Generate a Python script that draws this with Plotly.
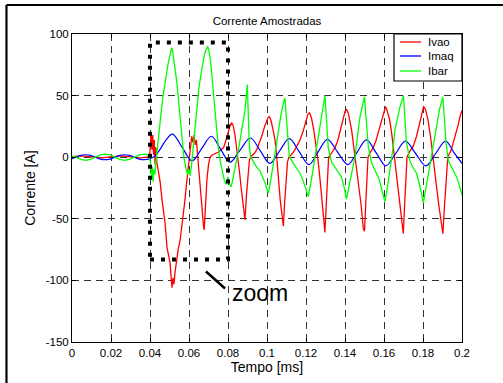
import plotly.graph_objects as go

# ---------------- data ----------------
x_tick_vals = [0, 0.02, 0.04, 0.06, 0.08, 0.1, 0.12, 0.14, 0.16, 0.18, 0.2]
x_tick_text = ["0", "0.02", "0.04", "0.06", "0.08", "0.1", "0.12", "0.14", "0.16", "0.18", "0.2"]
y_tick_vals = [-150, -100, -50, 0, 50, 100]
y_tick_text = ["-150", "-100", "-50", "0", "50", "100"]

# Ivao (red)
t_ivao = [0.000, 0.005, 0.010, 0.015, 0.020, 0.025, 0.030, 0.035, 0.0398,
          0.0402, 0.0406, 0.0410, 0.0414, 0.0418, 0.0422, 0.0426, 0.0430, 0.0435, 0.0441,
          0.0452, 0.0462, 0.0470, 0.0477, 0.0487, 0.0495, 0.0503, 0.0508, 0.0513, 0.0518,
          0.0523, 0.0528, 0.0536, 0.0544, 0.0554, 0.0564, 0.0572, 0.0579, 0.0587, 0.0595,
          0.0602, 0.0608, 0.0614, 0.0620, 0.0626, 0.0632, 0.0638, 0.0644, 0.0652, 0.0660,
          0.0668, 0.0674, 0.0678, 0.0684, 0.0692, 0.0700, 0.0708, 0.0720, 0.0735, 0.0750,
          0.0765, 0.0778, 0.0790, 0.0800, 0.0810, 0.0818, 0.0826, 0.0835, 0.0843, 0.0851,
          0.0859, 0.0867, 0.0875, 0.0882, 0.0887, 0.0895, 0.0903, 0.0910, 0.0920, 0.0935,
          0.0947, 0.0960, 0.0973, 0.0990, 0.1005, 0.1012, 0.1020, 0.1030, 0.1041, 0.1050,
          0.1058, 0.1068, 0.1078, 0.1084, 0.1090, 0.1097, 0.1105, 0.1112, 0.1125, 0.1135,
          0.1150, 0.1169, 0.1185, 0.1200, 0.1210, 0.1218, 0.1228, 0.1240, 0.1252, 0.1262,
          0.1272, 0.1282, 0.1290, 0.1297, 0.1304, 0.1310, 0.1316, 0.1330, 0.1349, 0.1362,
          0.1374, 0.1388, 0.1400, 0.1408, 0.1418, 0.1434, 0.1450, 0.1468, 0.1482, 0.1494,
          0.1500, 0.1507, 0.1512, 0.1518, 0.1530, 0.1545, 0.1558, 0.1571, 0.1585, 0.1597,
          0.1608, 0.1616, 0.1628, 0.1639, 0.1652, 0.1665, 0.1680, 0.1692, 0.1699, 0.1706,
          0.1712, 0.1718, 0.1733, 0.1750, 0.1767, 0.1780, 0.1792, 0.1803, 0.1812, 0.1825,
          0.1840, 0.1853, 0.1868, 0.1882, 0.1895, 0.1902, 0.1910, 0.1920, 0.1927, 0.1945,
          0.1964, 0.1980, 0.1990, 0.2000]
ivao = [0.5, 1.0, 0.3, -0.6, 0.3, 1.0, 0.3, -0.6, 0.2,
        12, 20, 6, 18, 2, 14, -6, 8, -4, -10,
        -20, -35, -45, -53, -73, -80, -86, -97, -106, -98,
        -103, -94, -84, -75, -68, -56, -45, -35, -22, -10,
        0, 12, 17, 12, 18, 10, 14, 2, -15, -30,
        -42, -55, -59, -40, -18, -6, 0, 2, 3, 4,
        6, 8, 14, 20, 25, 28, 26, 19, 10, 0,
        -12, -24, -37, -48, -51, -30, -14, -2, 1, 3,
        6, 11, 17, 26, 32, 33, 30, 23, 14, 0,
        -18, -35, -48, -56, -38, -18, -4, 0, 2, 4,
        8, 14, 21, 30, 35, 36, 32, 22, 10, -3,
        -18, -35, -50, -61, -38, -14, 0, 3, 8, 13,
        20, 29, 37, 39, 35, 22, 3, -18, -38, -58,
        -60, -36, -12, 0, 4, 8, 13, 20, 27, 34,
        41, 38, 31, 20, 2, -18, -38, -55, -62, -38,
        -14, 0, 5, 9, 17, 25, 34, 41, 39, 31,
        15, -4, -22, -40, -56, -62, -40, -16, 0, 6,
        16, 26, 33, 38]

# Imaq (blue)
t_imaq = [0.000, 0.002, 0.0045, 0.007, 0.0095, 0.012, 0.0145, 0.017, 0.0195, 0.022,
          0.0245, 0.027, 0.0295, 0.032, 0.0345, 0.037, 0.040, 0.0425, 0.045, 0.0478,
          0.0515, 0.0565, 0.0616, 0.0665, 0.0715, 0.0762, 0.0810, 0.0862, 0.0915, 0.0965,
          0.1015, 0.1064, 0.1114, 0.1165, 0.1215, 0.1262, 0.1310, 0.1362, 0.1415, 0.1462,
          0.1510, 0.1560, 0.1610, 0.1660, 0.1710, 0.1762, 0.1815, 0.1865, 0.1916, 0.1958,
          0.2000]
imaq = [-1.2, 0, 1.5, 2, 1.5, 0, -1.5, -2, -1.5, 0,
        1.5, 2, 1.5, 0, -1.5, -2, -1.2, 1, 6, 13,
        18.8, 8, -3, 7, 17, 6.5, -4, 5.8, 15.6, 5.3,
        -5, 5, 15, 4.5, -6, 4.3, 14.5, 4.2, -6, 4,
        14, 3.5, -7, 3, 13, 3, -7, 3, 13, 4,
        -5]

# Ibar (green)
t_ibar = [0.000, 0.002, 0.0045, 0.007, 0.0095, 0.012, 0.0145, 0.017, 0.0195, 0.022,
          0.0245, 0.027, 0.0295, 0.032, 0.0345, 0.037, 0.0395,
          0.0403, 0.0408, 0.0412, 0.0416, 0.0420, 0.0425, 0.0430, 0.0436, 0.0442, 0.0450,
          0.0458, 0.0467, 0.0475, 0.0485, 0.0493, 0.0500, 0.0506, 0.0511, 0.0516, 0.0522,
          0.0530, 0.0538, 0.0547, 0.0556, 0.0565, 0.0574, 0.0583, 0.0592, 0.0600, 0.0606,
          0.0612, 0.0620, 0.0630, 0.0640, 0.0650, 0.0660, 0.0670, 0.0680, 0.0690, 0.0696,
          0.0703, 0.0712, 0.0722, 0.0732, 0.0742, 0.0752, 0.0760, 0.0770, 0.0780, 0.0790,
          0.0800, 0.0808, 0.0815, 0.0822, 0.0836, 0.0849, 0.0862, 0.0875, 0.0887, 0.0895,
          0.0899, 0.0905, 0.0910, 0.0916, 0.0930, 0.0947, 0.0964, 0.0978, 0.0990, 0.1000,
          0.1007, 0.1020, 0.1033, 0.1045, 0.1058, 0.1071, 0.1084, 0.1092, 0.1098, 0.1104,
          0.1114, 0.1135, 0.1152, 0.1169, 0.1185, 0.1195, 0.1205, 0.1212, 0.1228, 0.1246,
          0.1259, 0.1272, 0.1285, 0.1297, 0.1306, 0.1314, 0.1331, 0.1348, 0.1365, 0.1382,
          0.1395, 0.1408, 0.1425, 0.1451, 0.1465, 0.1477, 0.1490, 0.1500, 0.1510, 0.1520,
          0.1537, 0.1562, 0.1575, 0.1588, 0.1605, 0.1618, 0.1631, 0.1645, 0.1656, 0.1670,
          0.1682, 0.1700, 0.1707, 0.1715, 0.1733, 0.1750, 0.1767, 0.1785, 0.1802, 0.1818,
          0.1836, 0.1853, 0.1870, 0.1885, 0.1902, 0.1910, 0.1918, 0.1930, 0.1947, 0.1972,
          0.1985, 0.2000]
ibar = [0.8, 0, -1.8, -2.5, -1.8, 0, 1.8, 2.5, 1.8, 0,
        -1.8, -2.5, -1.8, 0, 1.8, 2.5, 1.5,
        -5, -18, -8, -20, -10, -14, -5, 5, 12, 22,
        38, 50, 60, 68, 76, 82, 85, 89, 86, 80,
        70, 60, 45, 30, 14, 0, -8, -14, -10, -15,
        -8, 5, 22, 40, 55, 66, 76, 84, 88, 90,
        86, 76, 58, 40, 20, 5, -3, -10, -18, -22,
        -16, -22, -24, -20, -10, 2, 14, 26, 38, 52,
        59, 30, 8, 0, -4, -8, -11, -16, -21, -26,
        -29, -18, -5, 8, 22, 34, 44, 48, 35, 20,
        1, -5, -9, -13, -19, -24, -29, -32, -18, 0,
        14, 28, 40, 50, 28, 8, -4, -8, -11, -16,
        -24, -34, -20, 0, 18, 33, 42, 49, 28, 8,
        -5, -13, -18, -26, -36, -24, -10, 6, 22, 33,
        41, 50, 30, 12, -3, -9, -13, -24, -37, -22,
        -5, 12, 28, 39, 49, 30, 12, -3, -8, -16,
        -22, -31]

series_names = ["Ivao", "Imaq", "Ibar"]
series_colors = ["#ff0000", "#0000ff", "#00ff00"]

# zoom box annotation extents (data units)
zoom_t0, zoom_t1 = 0.04, 0.08
zoom_vmin, zoom_vmax = -83, 93

# ---------------- figure ----------------
fig = go.Figure()
fig.add_trace(go.Scatter(x=t_ivao, y=ivao, mode="lines", name=series_names[0],
                         showlegend=False,
                         line=dict(color=series_colors[0], width=1.3)))
fig.add_trace(go.Scatter(x=t_imaq, y=imaq, mode="lines", name=series_names[1],
                         showlegend=False,
                         line=dict(color=series_colors[1], width=1.2, shape="spline")))
fig.add_trace(go.Scatter(x=t_ibar, y=ibar, mode="lines", name=series_names[2],
                         showlegend=False,
                         line=dict(color=series_colors[2], width=1.3)))

FONT = "Liberation Sans, Arial, Helvetica, sans-serif"
axis_common = dict(
    showgrid=True, gridcolor="#333333", gridwidth=1, griddash="7px,5px",
    showline=True, linecolor="black", linewidth=1, mirror="ticks",
    ticks="inside", ticklen=4, tickcolor="black", zeroline=False,
    tickfont=dict(family=FONT, size=11.5, color="black"),
)

fig.update_layout(
    width=503, height=383,
    margin=dict(l=72, r=41, t=34, b=41),
    paper_bgcolor="white", plot_bgcolor="white",
    font=dict(family=FONT, size=11.5, color="black"),
    title=dict(text="Corrente Amostradas", x=0.5, xref="paper", xanchor="center",
               y=1 - 21 / 383, yref="container", yanchor="middle",
               font=dict(family=FONT, size=11.5, color="black")),
    xaxis=dict(range=[0, 0.2], tickvals=x_tick_vals, ticktext=x_tick_text,
               title=dict(text="Tempo [ms]", standoff=2), **axis_common),
    yaxis=dict(range=[-150, 100], tickvals=y_tick_vals, ticktext=y_tick_text,
               title=dict(text="Corrente [A]", standoff=6), **axis_common),
    showlegend=False,
)

# compact MATLAB-style legend box (paper coordinates of the plot area)
leg_x0, leg_x1, leg_y0, leg_y1 = 0.8256, 1.0, 0.8474, 1.0
fig.add_shape(type="rect", xref="paper", yref="paper",
              x0=leg_x0, x1=leg_x1, y0=leg_y0, y1=leg_y1,
              line=dict(color="black", width=1.2), fillcolor="white", layer="above")
leg_rows = [0.974, 0.9286, 0.8799]
for name, color, yy in zip(series_names, series_colors, leg_rows):
    fig.add_shape(type="line", xref="paper", yref="paper",
                  x0=0.841, x1=0.895, y0=yy, y1=yy,
                  line=dict(color=color, width=1.3), layer="above")
    fig.add_annotation(x=0.9077, y=yy, xref="paper", yref="paper", text=name,
                       showarrow=False, xanchor="left", yanchor="middle",
                       font=dict(family=FONT, size=11.5, color="black"))

# dotted zoom rectangle
fig.add_shape(type="rect", xref="x", yref="y",
              x0=zoom_t0, x1=zoom_t1, y0=zoom_vmin, y1=zoom_vmax,
              line=dict(color="black", width=4, dash="4px,7px"), layer="above")
# leader line to the "zoom" label
fig.add_shape(type="line", xref="x", yref="y",
              x0=0.0687, y0=-92.8, x1=0.0785, y1=-106.6,
              line=dict(color="black", width=2.5), layer="above")
fig.add_annotation(x=0.081, y=-110, xref="x", yref="y", text="zoom",
                   showarrow=False, xanchor="left", yanchor="middle",
                   font=dict(family=FONT, size=23, color="black"))

# outer page frame (top and left edges visible)
fig.add_shape(type="line", xref="paper", yref="paper",
              x0=-0.168, y0=1.0942, x1=1.2, y1=1.0942,
              line=dict(color="black", width=2.2))
fig.add_shape(type="line", xref="paper", yref="paper",
              x0=-0.168, y0=1.0942, x1=-0.168, y1=-0.2,
              line=dict(color="black", width=2.2))

fig.write_html("out.html")
